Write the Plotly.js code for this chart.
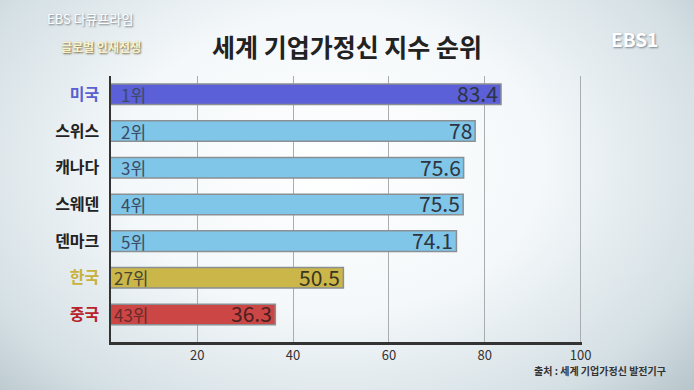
<!DOCTYPE html>
<html><head><meta charset="utf-8">
<script src="https://cdn.plot.ly/plotly-3.0.1.min.js"></script>
<style>
html,body{margin:0;padding:0;}
#bg{width:694px;height:390px;background:radial-gradient(ellipse 75% 95% at 48% 42%, #ffffff 0%, #f4f8fa 40%, #d4dfe4 75%, #aab9c0 100%);}
</style></head>
<body><div id="bg"><div id="chart" style="width:694px;height:390px;"></div></div>
<script>
const countries = ['미국','스위스','캐나다','스웨덴','덴마크','한국','중국'];
const scores = [83.4, 78, 75.6, 75.5, 74.1, 50.5, 36.3];
const ranks = ['1위','2위','3위','4위','5위','27위','43위'];
const barColors = ['#5b5fd8','#7fc6e8','#7fc6e8','#7fc6e8','#7fc6e8','#cbb64a','#cc4646'];
const labelColors = ['#5b5fd0','#222222','#222222','#222222','#222222','#c8b23c','#b8232a'];
const xTicks = [20, 40, 60, 80, 100];

const font = "'Noto Sans CJK KR', 'Noto Sans', sans-serif";

const trace = {
  type: 'bar', orientation: 'h',
  x: scores, y: countries,
  marker: {color: barColors, line: {color: '#8a8f94', width: 1.5}},
  hoverinfo: 'none'
};

const annotations = countries.map((c, i) => ({
  x: 2, y: c, xref: 'x', yref: 'y', text: ranks[i], showarrow: false,
  xanchor: 'left', xshift: i >= 5 ? 1 : 8,
  font: {family: font, size: 17, color: i === 5 ? '#4a4530' : (i === 6 ? '#6a2a2a' : '#3b4b66')}
}));
countries.forEach((c, i) => annotations.push({
  x: scores[i], y: c, xref: 'x', yref: 'y', text: String(scores[i]), showarrow: false,
  xanchor: 'right', xshift: -1, yshift: 1,
  font: {family: font, size: 21, color: i === 5 ? '#3a3520' : (i === 6 ? '#4a2020' : '#2e3440')}
}));
annotations.push(
  {xref:'paper', yref:'paper', x:0.5, y:1, yshift:30, text:'<b>세계 기업가정신 지수 순위</b>', showarrow:false, font:{family:font, size:25, color:'#222'}, xanchor:'center', yanchor:'middle'},
  {xref:'paper', yref:'paper', x:0, y:1, xshift:-66, yshift:58, text:'EBS 다큐프라임', showarrow:false, font:{family:font, size:13, color:'#ffffff', shadow:'1px 1px 2px #6a7075'}, xanchor:'left', yanchor:'middle'},
  {xref:'paper', yref:'paper', x:0, y:1, xshift:-52, yshift:30, text:'<b>글로벌 인재전쟁</b>', showarrow:false, font:{family:font, size:12, color:'#fbf3c8', shadow:'1px 1px 2px #6a6040'}, xanchor:'left', yanchor:'middle'},
  {xref:'paper', yref:'paper', x:1, y:1, xshift:52, yshift:38, text:'<b>EBS1</b>', showarrow:false, font:{family:font, size:19, color:'#ffffff', shadow:'1px 1px 2px #7a8590'}, xanchor:'center', yanchor:'middle'},
  {xref:'paper', yref:'paper', x:1, y:0, xshift:86, yshift:-28, text:'<b>출처 : 세계 기업가정신 발전기구</b>', showarrow:false, font:{family:font, size:10, color:'#333'}, xanchor:'right', yanchor:'middle'}
);

const layout = {
  width: 694, height: 390,
  margin: {l: 111, r: 112, t: 76, b: 48},
  paper_bgcolor: 'rgba(0,0,0,0)', plot_bgcolor: 'rgba(0,0,0,0)',
  showlegend: false, bargap: 0.44,
  font: {family: font},
  xaxis: {
    range: [2, 100.3], tickvals: xTicks, ticktext: xTicks.map(String),
    showgrid: true, gridcolor: '#a9adb0', gridwidth: 1,
    showline: true, linecolor: '#333', linewidth: 2.5, zeroline: false,
    tickfont: {family: font, size: 13, color: '#333'}, ticks: '', ticklabelstandoff: 0, fixedrange: true
  },
  yaxis: {
    type: 'category', range: [6.75, -0.5],
    tickvals: countries,
    ticktext: countries.map((c, i) => `<b><span style="color:${labelColors[i]}">${c}</span></b>`),
    showline: true, linecolor: '#333', linewidth: 2.5, showgrid: false,
    tickfont: {family: font, size: 16, color: '#222'}, ticks: '', ticklabelstandoff: 6, fixedrange: true
  },
  annotations: annotations
};

Plotly.newPlot('chart', [trace], layout, {displayModeBar: false, staticPlot: true});
</script></body></html>
